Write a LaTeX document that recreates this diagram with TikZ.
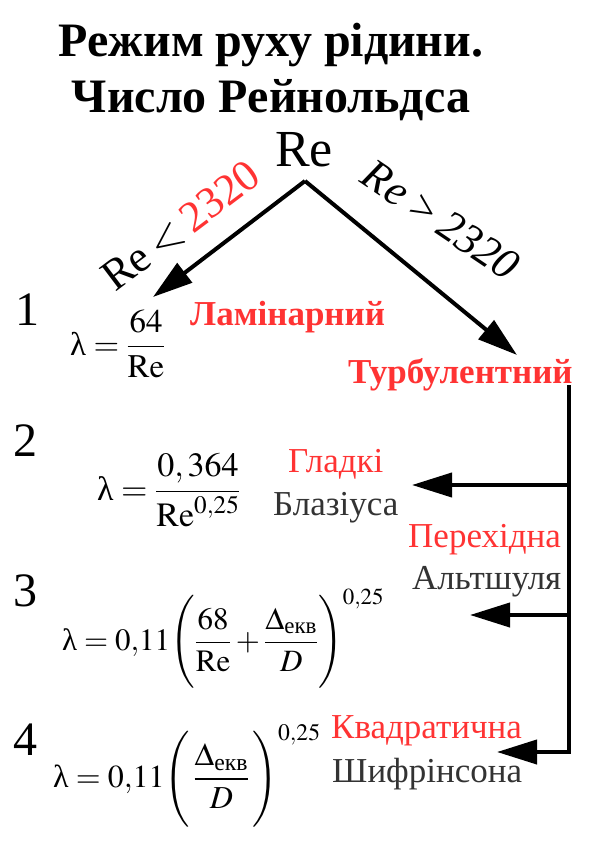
\documentclass[tikz,border=0pt]{standalone}
\usepackage{amsmath}
\usepackage{mathptmx}
\usepackage{fontspec}
\setmainfont{Liberation Serif}
\usepackage{xcolor}
\usepackage{tikz}
\usetikzlibrary{arrows.meta,positioning}
\definecolor{reyRed}{HTML}{FF3333}
\definecolor{reyGrey}{HTML}{333333}
\newcommand{\lam}{\text{λ}}

\begin{document}
\begin{tikzpicture}[
    x=1pt, y=-1pt,
    title/.style={font=\fontsize{48}{52}\selectfont\bfseries, inner sep=0pt, anchor=base},
    numlbl/.style={font=\fontsize{48}{50}\selectfont, inner sep=0pt},
    formula/.style={inner sep=0pt, anchor=base west},
    regime/.style={text=reyRed, font=\fontsize{35}{38}\selectfont\bfseries, inner sep=0pt, anchor=base west},
    zone/.style={text=reyRed, font=\fontsize{35}{38}\selectfont, inner sep=0pt, anchor=base west},
    author/.style={text=reyGrey, font=\fontsize{35}{38}\selectfont, inner sep=0pt, anchor=base west},
    cond/.style={font=\fontsize{44}{48}\selectfont, inner sep=0pt},
    flow/.style={line width=4pt, line join=miter, -{Triangle[length=40pt,width=24pt]}}
]
\useasboundingbox (0,0) rectangle (595,842);

% title
\node[title] (title1) at (271,57) {Режим руху рідини.};
\node[title] (title2) at (271,113) {Число Рейнольдса};
\node[font=\fontsize{52}{56}\selectfont, inner sep=0pt, anchor=base] (re) at (304,167) {Re};

% branching by Re
\coordinate (apex) at (305,181);
\coordinate (lamtip) at (153,297);
\coordinate (turbtip) at (517,355);
\draw[flow] (apex) -- (lamtip);
\draw[flow] (apex) -- (turbtip);
\node[cond, rotate=37] (lowlbl) at (181,226) {Re\,$<$\,\textcolor{reyRed}{2320}};
\node[cond, rotate=-34, font=\fontsize{44}{48}\selectfont\itshape] (highlbl) at (441,220) {Re\,>\,2320};

% row numbers
\node[numlbl] (n1) at (28,310) {1};
\node[numlbl] (n2) at (25,441) {2};
\node[numlbl] (n3) at (25,591) {3};
\node[numlbl] (n4) at (25,740) {4};

% formulas
\node[formula, font=\fontsize{33}{38}\selectfont] (f1) at (70,355) {$\lam=\dfrac{64}{\mathrm{Re}}$};
\node[formula, font=\fontsize{34}{38}\selectfont] (f2) at (97,500) {$\lam=\dfrac{0,364}{\mathrm{Re}^{0,25}}$};
\node[formula, font=\fontsize{31}{34}\selectfont] (f3) at (62,650)
    {$\lam=0{,}11\Biggl(\dfrac{68}{\mathrm{Re}}+\dfrac{\Delta_{\text{екв}}}{D}\Biggr)^{0{,}25}$};
\node[formula, font=\fontsize{32}{36}\selectfont] (f4) at (53,787)
    {$\lam=0{,}11\Biggl(\,\dfrac{\Delta_{\text{екв}}}{D}\,\Biggr)^{0{,}25}$};

% regimes and zones
\node[regime] (lam) at (190,325) {Ламінарний};
\node[regime] (turb) at (348,383) {Турбулентний};
\node[zone] (smooth) at (288,472) {Гладкі};
\node[author] (blasius) at (273,515) {Блазіуса};
\node[zone] (trans) at (408,547) {Перехідна};
\node[author] (altshul) at (412,589) {Альтшуля};
\node[zone] (quad) at (331,738) {Квадратична};
\node[author] (shifr) at (332,782) {Шифрінсона};

% turbulent trunk
\coordinate (trunktop) at (569,385);
\coordinate (smoothtip) at (412,485);
\coordinate (transtip) at (470,615);
\coordinate (quadtip) at (497,752);
\draw[flow] (trunktop) |- (quadtip);
\draw[flow] (smoothtip -| trunktop) -- (smoothtip);
\draw[flow] (transtip -| trunktop) -- (transtip);

\end{tikzpicture}
\end{document}
